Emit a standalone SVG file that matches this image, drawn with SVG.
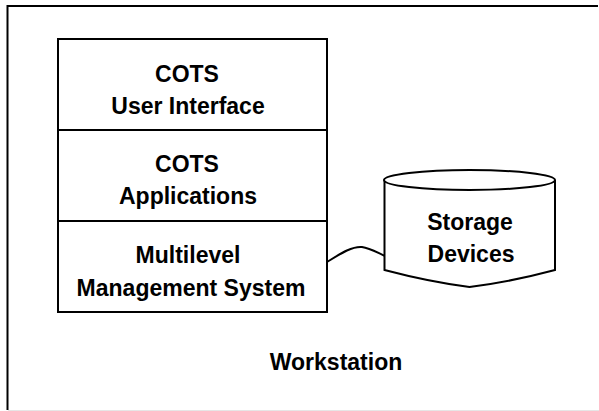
<svg xmlns="http://www.w3.org/2000/svg" width="599" height="411" viewBox="0 0 599 411">
<style>
.ln{fill:none;stroke:#000;stroke-width:2}
.bx{fill:#fff;stroke:#000;stroke-width:2}
.t{font-family:"Liberation Sans",Arial,sans-serif;font-weight:bold;font-size:23px;fill:#000;text-anchor:middle}
</style>
<rect width="599" height="411" fill="#fff"/>
<g id="workstation">
<path class="ln" d="M598,6 H7.5 V410"/>
<line x1="8" y1="410.5" x2="599" y2="410.5" stroke="#e6e6e6" stroke-width="1"/>
<text class="t" x="336" y="370">Workstation</text>
</g>
<g id="cots-ui">
<rect class="bx" x="58" y="39" width="269" height="91"/>
<text class="t" x="187" y="82">COTS</text>
<text class="t" x="188" y="114">User Interface</text>
</g>
<g id="cots-apps">
<rect class="bx" x="58" y="130" width="269" height="91"/>
<text class="t" x="187" y="172">COTS</text>
<text class="t" x="188" y="204">Applications</text>
</g>
<g id="mls">
<rect class="bx" x="58" y="221" width="269" height="91"/>
<text class="t" x="188" y="263">Multilevel</text>
<text class="t" x="191" y="296">Management System</text>
</g>
<g id="connectors">
<path class="ln" d="M327,262 C340,254 352,246 362,247 C370,248 378,253 385,256"/>
</g>
<g id="storage">
<path class="bx" d="M384.5,180 V270 Q430,282 469.5,287 Q510,282 555,270 V180"/>
<ellipse class="bx" cx="469.5" cy="180" rx="85.5" ry="10"/>
<text class="t" x="470" y="230">Storage</text>
<text class="t" x="471" y="262">Devices</text>
</g>
</svg>
